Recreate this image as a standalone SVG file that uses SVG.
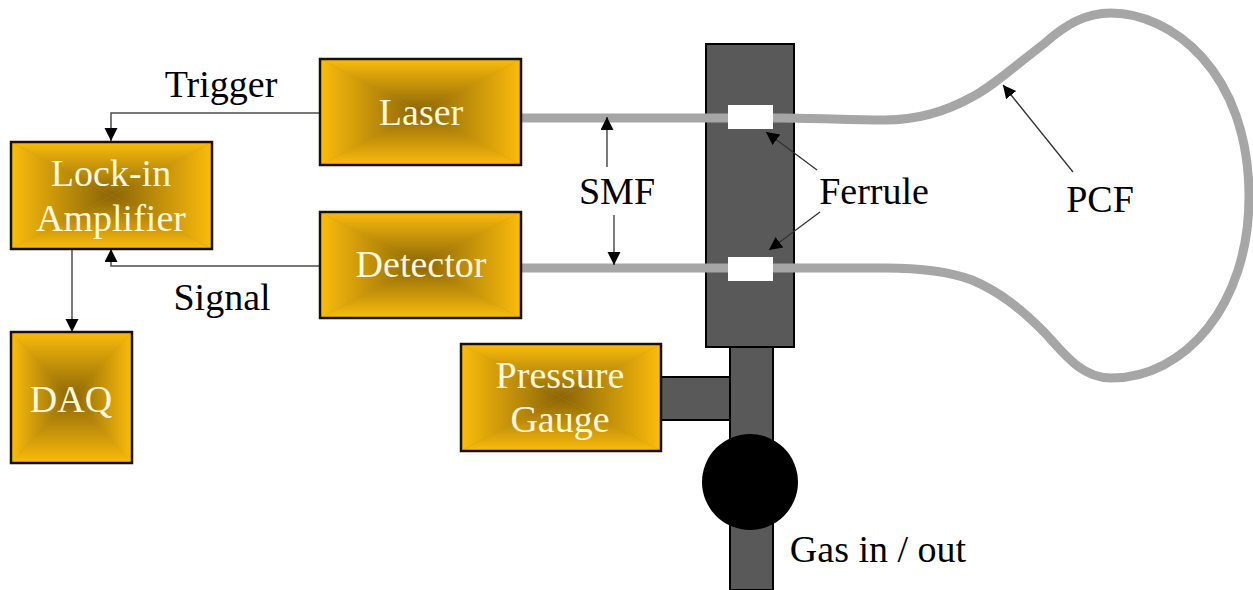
<svg xmlns="http://www.w3.org/2000/svg" width="1253" height="590" viewBox="0 0 1253 590">
<style>
.t{font-family:"Liberation Serif","Times New Roman",serif;font-size:38px;text-anchor:middle}
.k{fill:#000}
.w{fill:#fff8dc}
.box{fill:none;stroke:#1a1208;stroke-width:2.5}
.base{fill:#c9970c}
.dark{fill:#595959;stroke:#000;stroke-width:2}
.fiber{fill:none;stroke:#a6a6a6;stroke-width:9}
.conn{fill:none;stroke:#4d4d4d;stroke-width:1.5}
.thin{fill:none;stroke:#333;stroke-width:1.3}
</style>
<defs>
<linearGradient id="gl" x1="0" y1="0" x2="1" y2="0"><stop offset="0" stop-color="#fbbc0c"/><stop offset="1" stop-color="#8a6507"/></linearGradient>
<linearGradient id="gr" x1="1" y1="0" x2="0" y2="0"><stop offset="0" stop-color="#fbbc0c"/><stop offset="1" stop-color="#8a6507"/></linearGradient>
<linearGradient id="gt" x1="0" y1="0" x2="0" y2="1"><stop offset="0" stop-color="#fbbc0c"/><stop offset="1" stop-color="#8a6507"/></linearGradient>
<linearGradient id="gb" x1="0" y1="1" x2="0" y2="0"><stop offset="0" stop-color="#fbbc0c"/><stop offset="1" stop-color="#8a6507"/></linearGradient>
<marker id="a" markerUnits="userSpaceOnUse" markerWidth="15" markerHeight="14" refX="13" refY="6.500" orient="auto"><path d="M0 0L13 6.500L0 13Z" fill="#000"/></marker>
</defs>
<rect width="1253" height="590" fill="#fff"/>
<g id="chamber">
<rect class="dark" x="730" y="346" width="43" height="244"/>
<rect class="dark" x="661" y="377" width="69" height="43"/>
<rect class="dark" x="706" y="44" width="88" height="303"/>
</g>
<g id="fiber">
<path class="fiber" d="M522 118H780C815 118 850 120 885 120C915 120 945 112 972 97C990 88 1010 70 1045 43C1065 25 1085 13 1111 13C1170 13 1249 70 1249 197C1249 305 1185 378 1111 378C1082 378 1065 355 1045 333C1020 308 1000 292 972 280C945 270 915 268 885 268H522"/>
</g>
<g id="ferrule-top"><rect x="728" y="105" width="45" height="24" fill="#fff"/></g>
<g id="ferrule-bottom"><rect x="728" y="257" width="45" height="24" fill="#fff"/></g>
<g id="valve"><circle cx="750" cy="482" r="48" fill="#000"/></g>
<g id="connectors">
<path class="conn" d="M320 113H111V141" marker-end="url(#a)"/>
<path class="conn" d="M320 266H111V249" marker-end="url(#a)"/>
<path class="thin" d="M72 249V332" marker-end="url(#a)"/>
<path class="thin" d="M607 167V117" marker-end="url(#a)"/>
<path class="thin" d="M614 215V265" marker-end="url(#a)"/>
<path class="thin" d="M817 170L766 132" marker-end="url(#a)"/>
<path class="thin" d="M820 212L769 250" marker-end="url(#a)"/>
<path class="thin" d="M1073 172L1003 85" marker-end="url(#a)"/>
</g>
<g id="laser">
<rect class="base" x="320" y="59" width="201" height="106"/>
<polygon points="320,59 420.500,112 320,165" fill="url(#gl)"/><polygon points="521,59 420.500,112 521,165" fill="url(#gr)"/><polygon points="320,59 420.500,112 521,59" fill="url(#gt)"/><polygon points="320,165 420.500,112 521,165" fill="url(#gb)"/>
<rect class="box" x="320" y="59" width="201" height="106"/>
<text class="t w" x="421" y="125">Laser</text>
</g>
<g id="detector">
<rect class="base" x="320" y="212" width="201" height="106"/>
<polygon points="320,212 420.500,265 320,318" fill="url(#gl)"/><polygon points="521,212 420.500,265 521,318" fill="url(#gr)"/><polygon points="320,212 420.500,265 521,212" fill="url(#gt)"/><polygon points="320,318 420.500,265 521,318" fill="url(#gb)"/>
<rect class="box" x="320" y="212" width="201" height="106"/>
<text class="t w" x="421" y="277">Detector</text>
</g>
<g id="lockin">
<rect class="base" x="11" y="142" width="201" height="107"/>
<polygon points="11,142 111.500,195.500 11,249" fill="url(#gl)"/><polygon points="212,142 111.500,195.500 212,249" fill="url(#gr)"/><polygon points="11,142 111.500,195.500 212,142" fill="url(#gt)"/><polygon points="11,249 111.500,195.500 212,249" fill="url(#gb)"/>
<rect class="box" x="11" y="142" width="201" height="107"/>
<text class="t w" x="111" y="186">Lock-in</text>
<text class="t w" x="111" y="231">Amplifier</text>
</g>
<g id="daq">
<rect class="base" x="11" y="332" width="121" height="131"/>
<polygon points="11,332 71.500,397.500 11,463" fill="url(#gl)"/><polygon points="132,332 71.500,397.500 132,463" fill="url(#gr)"/><polygon points="11,332 71.500,397.500 132,332" fill="url(#gt)"/><polygon points="11,463 71.500,397.500 132,463" fill="url(#gb)"/>
<rect class="box" x="11" y="332" width="121" height="131"/>
<text class="t w" x="71" y="412">DAQ</text>
</g>
<g id="gauge">
<rect class="base" x="461" y="344" width="200" height="107"/>
<polygon points="461,344 561,397.500 461,451" fill="url(#gl)"/><polygon points="661,344 561,397.500 661,451" fill="url(#gr)"/><polygon points="461,344 561,397.500 661,344" fill="url(#gt)"/><polygon points="461,451 561,397.500 661,451" fill="url(#gb)"/>
<rect class="box" x="461" y="344" width="200" height="107"/>
<text class="t w" x="560" y="388">Pressure</text>
<text class="t w" x="560" y="432">Gauge</text>
</g>
<g id="labels">
<text class="t k" x="221" y="97">Trigger</text>
<text class="t k" x="222" y="310">Signal</text>
<text class="t k" x="617" y="204">SMF</text>
<text class="t k" x="874" y="204">Ferrule</text>
<text class="t k" x="1100" y="212">PCF</text>
<text class="t k" x="878" y="562">Gas in / out</text>
</g>
</svg>
